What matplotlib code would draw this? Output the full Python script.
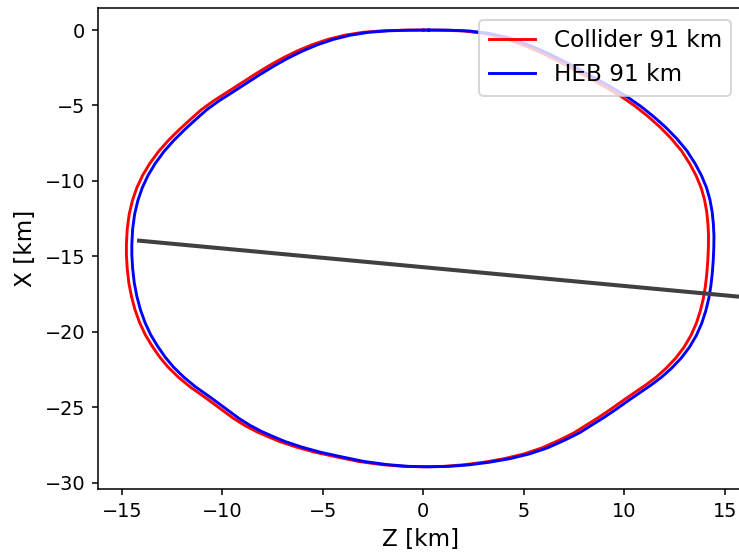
import matplotlib
matplotlib.use("Agg")
import matplotlib.pyplot as plt

# Collider ring outline (Z, X) in km, read clockwise from the top
collider_z = [0.0, 1.0, 2.0, 3.0, 4.0, 5.0, 6.0, 7.0, 8.0, 9.0,
              9.85, 10.55, 11.2, 11.8, 12.35, 12.85, 13.26, 13.58, 13.83, 14.0,
              14.11, 14.17, 14.2, 14.19, 14.16, 14.11, 14.04, 13.94, 13.79, 13.59,
              13.32, 12.98, 12.57, 12.1, 11.6, 11.08, 10.55, 9.95, 9.28, 8.7,
              8.12, 7.5, 6.79, 5.9, 5.0, 4.0, 3.0, 2.0, 1.0, 0.0,
              -1.0, -2.1, -3.2, -4.3, -5.4, -6.3, -7.14, -7.7, -8.3, -8.9,
              -9.46, -10.1, -10.8, -11.62, -12.2, -12.7, -13.12, -13.5, -13.84, -14.12,
              -14.35, -14.53, -14.66, -14.74, -14.78, -14.78, -14.74, -14.64, -14.48, -14.26,
              -13.98, -13.62, -13.18, -12.68, -12.15, -11.6, -11.05, -10.45, -9.8, -9.1,
              -8.4, -7.7, -7.0, -6.3, -5.55, -4.75, -3.9, -3.0, -2.0, -1.0,
              0.0]
collider_x = [0.0, -0.01, -0.06, -0.22, -0.52, -1.0, -1.58, -2.25, -2.98, -3.72,
              -4.4, -5.05, -5.74, -6.45, -7.2, -8.0, -8.85, -9.65, -10.45, -11.25,
              -12.05, -12.85, -13.65, -14.5, -15.35, -16.2, -17.0, -17.8, -18.62, -19.44,
              -20.25, -21.02, -21.74, -22.4, -23.0, -23.52, -24.0, -24.55, -25.18, -25.7,
              -26.18, -26.7, -27.17, -27.7, -28.1, -28.42, -28.65, -28.82, -28.92, -28.95,
              -28.92, -28.8, -28.6, -28.3, -27.98, -27.65, -27.28, -26.97, -26.62, -26.2,
              -25.73, -25.1, -24.41, -23.64, -23.0, -22.35, -21.68, -20.95, -20.2, -19.4,
              -18.55, -17.65, -16.75, -15.8, -14.9, -14.2, -13.2, -12.2, -11.3, -10.45,
              -9.65, -8.85, -8.05, -7.3, -6.6, -5.93, -5.28, -4.7, -4.15, -3.55,
              -2.95, -2.38, -1.86, -1.4, -0.98, -0.62, -0.34, -0.15, -0.05, -0.01,
              0.0]

# HEB ring, same outline sitting slightly further along Z
heb_z = [0.27, 1.27, 2.27, 3.27, 4.27, 5.27, 6.27, 7.27, 8.27, 9.27,
         10.12, 10.82, 11.47, 12.07, 12.62, 13.12, 13.53, 13.85, 14.1, 14.27,
         14.38, 14.44, 14.47, 14.46, 14.43, 14.38, 14.31, 14.21, 14.06, 13.86,
         13.59, 13.25, 12.84, 12.37, 11.87, 11.35, 10.82, 10.22, 9.55, 8.97,
         8.39, 7.77, 7.06, 6.17, 5.27, 4.27, 3.27, 2.27, 1.27, 0.27,
         -0.73, -1.83, -2.93, -4.03, -5.13, -6.03, -6.87, -7.43, -8.03, -8.63,
         -9.19, -9.83, -10.53, -11.35, -11.93, -12.43, -12.85, -13.23, -13.57, -13.85,
         -14.08, -14.26, -14.39, -14.47, -14.51, -14.51, -14.47, -14.37, -14.21, -13.99,
         -13.71, -13.35, -12.91, -12.41, -11.88, -11.33, -10.78, -10.18, -9.53, -8.83,
         -8.13, -7.43, -6.73, -6.03, -5.28, -4.48, -3.63, -2.73, -1.73, -0.73,
         0.27]
heb_x = collider_x

# straight line across the ring (Z, X)
line_z = [-14.15, 16.5]
line_x = [-13.96, -17.77]

fig = plt.figure(figsize=(739 / 139, 553 / 139), dpi=139)
ax = fig.add_axes([0.133, 0.1163, 0.872, 0.8692])

ax.plot(collider_z, collider_x, color='red', linewidth=1.5, label='Collider 91 km')
ax.plot(heb_z, heb_x, color='blue', linewidth=1.5, label='HEB 91 km')
ax.plot(line_z, line_x, color='#404040', linewidth=2.1)

ax.set_xlim(-16.18, 15.9)
ax.set_ylim(-30.4, 1.46)
ax.set_xlabel('Z [km]', fontsize=12)
ax.set_ylabel('X [km]', fontsize=12)
ax.tick_params(labelsize=10, length=3.2)
ax.legend(loc='upper right', fontsize=12)

fig.savefig('out.png', dpi=139)
